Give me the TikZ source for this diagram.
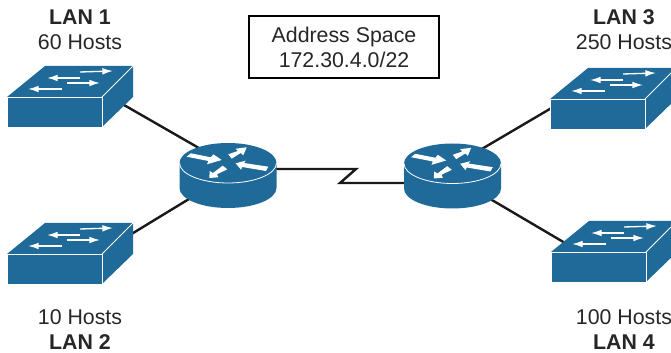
\documentclass[tikz,border=0pt]{standalone}
\usepackage{fontspec}
\setmainfont{Liberation Sans}
\usetikzlibrary{arrows.meta}
\definecolor{netblue}{HTML}{1F6A99}
\tikzset{
	link/.style = { draw, line width = 1.8pt, black!90 },
	lantext/.style = { align = center, inner sep = 0pt, text = black!85, font = \fontsize{16}{18.8}\selectfont },
	spacebox/.style = { draw, line width = 1.5pt, minimum width = 142.5pt, minimum height = 47pt, align = center, inner sep = 0pt, text = black!85, font = \fontsize{16}{18.8}\selectfont },
	hub/.style = { inner sep = 0pt, minimum width = 0pt, minimum height = 7.5pt },
	thinarrow/.style = { draw = white, line width = 1pt, -{Latex[length = 8pt, width = 5pt]} },
	lanswitch/.pic = {
		\fill [netblue] (0,0) -- (38,31) -- (126,31) -- (126,0) -- (95,-30) -- (0,-30) -- cycle;
		\draw [white, line width = 0.6pt] (0,-30) -- (0,0) -- (95,0) -- (95,-30);
		\draw [white, line width = 0.6pt] (95,0) -- (126,31);
		\draw [thinarrow] (73,25) -- (106,26);
		\draw [thinarrow] (73,19) -- (40,19);
		\draw [thinarrow] (60,14) -- (93,14);
		\draw [thinarrow] (55,8) -- (21,8);
	},
	routerdisc/.pic = {
		\fill [netblue] (-48.5,0) -- (-48.5,-25) arc [start angle = 180, end angle = 360, x radius = 48.5, y radius = 20] -- (48.5,0) arc [start angle = 0, end angle = 180, x radius = 48.5, y radius = 20] -- cycle;
		\draw [white, line width = 0.6pt] (-48.5,0) arc [start angle = 180, end angle = 360, x radius = 48.5, y radius = 20];
		\fill [white] (-41.3,6.3) -- (-37.3,9.7) -- (-17,5.7) -- (-14.7,8.7) -- (-6.3,3) -- (-21,-1.3) -- (-19.7,2) -- cycle;
		\fill [white] (0.3,8.7) -- (9.7,12) -- (7.7,14.3) -- (18.7,15.7) -- (15.3,7.7) -- (12.7,10) -- (3.7,4.3) -- cycle;
		\fill [white] (40.3,-3.7) -- (38,-8) -- (14.3,-4) -- (13,-6.7) -- (7.7,-0.3) -- (17.7,2.3) -- (16,0) -- cycle;
		\fill [white] (-5.3,-2.7) -- (-0.7,-6.3) -- (-11,-11.3) -- (-9.7,-14.3) -- (-18.7,-15) -- (-18.3,-8) -- (-15,-10) -- cycle;
	}
}
\begin{document}
\begin{tikzpicture}[x = 0.75pt, y = 0.75pt]
	\useasboundingbox (0,0) rectangle (671,353);
	% routers and switch ports
	\node (rt1) [hub] at (228,183) {};
	\node (rt2) [hub] at (452.5,181.5) {};
	\coordinate (port1) at (120,250.3);
	\coordinate (port2) at (120,112);
	\coordinate (port3) at (560,250);
	\coordinate (port4) at (565,110);
	\coordinate (wanbend1) at (356,184);
	\coordinate (wanbend2) at (340,170);
	% links go under the shapes
	\draw [link] (port1) -- (rt1.north);
	\draw [link] (port2) -- (rt1.south);
	\draw [link] (port3) -- (rt2.north);
	\draw [link] (port4) -- (rt2.south);
	\draw [link] (rt1 |- wanbend1) -- (wanbend1) -- (wanbend2) -- (rt2 |- wanbend2);
	\pic at (7,256) {lanswitch};
	\pic at (7,99) {lanswitch};
	\pic at (550,254) {lanswitch};
	\pic at (551,101) {lanswitch};
	\pic at (228,190) {routerdisc};
	\pic at (452.5,189.5) {routerdisc};
	\node (lan1) [lantext] at (80,323) { \textbf{LAN 1}\\60 Hosts };
	\node (lan2) [lantext] at (80,23) { 10 Hosts\\\textbf{LAN 2} };
	\node (lan3) [lantext] at (624,323) { \textbf{LAN 3}\\250 Hosts };
	\node (lan4) [lantext] at (624,23) { 100 Hosts\\\textbf{LAN 4} };
	\node (space) [spacebox] at (344,306) { Address Space\\172.30.4.0/22 };
\end{tikzpicture}
\end{document}
